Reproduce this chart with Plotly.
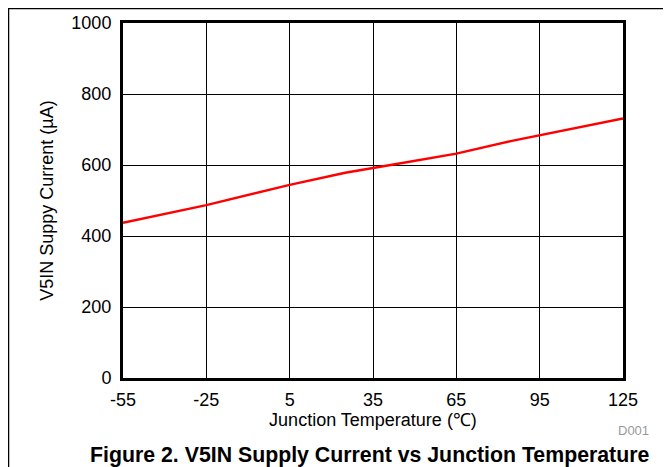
import plotly.graph_objects as go

temps = [-55, -25, 5, 25, 45, 65, 85, 105, 125]
current = [437, 487, 544, 578, 605, 632, 668, 700, 731]
x_ticks = [-55, -25, 5, 35, 65, 95, 125]
y_ticks = [0, 200, 400, 600, 800, 1000]

FONT = "Liberation Sans, Arial, sans-serif"

# The page body has an 8px margin, so the figure starts at page (8, 8).
OFF = 8
PAGE_W, PAGE_H = 671, 467
W, H = PAGE_W - OFF, PAGE_H - OFF
# plot area in page pixels
PL, PR, PT, PB = 123, 623, 23, 378
L = PL - OFF
T = PT - OFF
R = W - (PR - OFF)
B = H - (PB - OFF)
pw = PR - PL
ph = PB - PT

def px(xp):
    return (xp - PL) / pw

def py(yp):
    return (PB - yp) / ph

fig = go.Figure()
fig.add_trace(go.Scatter(x=temps, y=current, mode="lines",
                         line=dict(color="#ff0000", width=2.5), showlegend=False))

fig.update_layout(
    width=W, height=H,
    margin=dict(l=L, r=R, t=T, b=B, autoexpand=False),
    paper_bgcolor="white", plot_bgcolor="white",
    font=dict(family=FONT, color="black", size=18),
    xaxis=dict(range=[-55, 125], tickvals=x_ticks, ticktext=[str(v) for v in x_ticks],
               showgrid=True, gridcolor="black", gridwidth=1,
               showline=True, linecolor="black", linewidth=3, mirror=True,
               zeroline=False, ticks="", tickfont=dict(size=18), ticklabelstandoff=3,
               title=dict(text="Junction Temperature (℃)", font=dict(size=18), standoff=3)),
    yaxis=dict(range=[0, 1000], tickvals=y_ticks,
               showgrid=True, gridcolor="black", gridwidth=1,
               showline=True, linecolor="black", linewidth=3, mirror=True,
               zeroline=False, ticks="", tickfont=dict(size=18), ticklabelstandoff=5,
               title=dict(text="V5IN Suppy Current (µA)", font=dict(size=18), standoff=14)),
)

fig.add_shape(type="rect", xref="paper", yref="paper",
              x0=px(8.5), x1=px(720), y0=py(520), y1=py(8.5),
              line=dict(color="black", width=1.5), fillcolor="rgba(0,0,0,0)", layer="below")

fig.add_annotation(text="<b>Figure 2. V5IN Supply Current vs Junction Temperature</b>",
                   xref="paper", yref="paper", x=px(370), y=py(455),
                   xanchor="center", yanchor="middle", showarrow=False,
                   font=dict(size=21.3, family=FONT, color="black"))
fig.add_annotation(text="D001", xref="paper", yref="paper", x=px(651), y=py(430),
                   xanchor="right", yanchor="middle", showarrow=False,
                   font=dict(size=13, family=FONT, color="#999999"))

fig.write_html("out.html")
